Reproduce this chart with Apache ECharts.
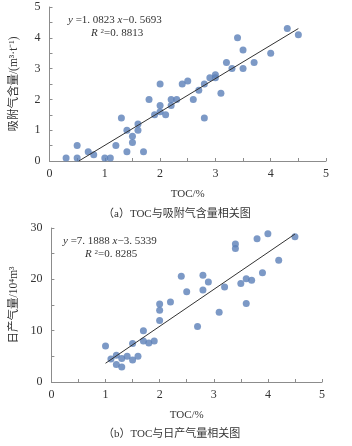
<!DOCTYPE html>
<html>
<head>
<meta charset="utf-8">
<script src="https://cdn.jsdelivr.net/npm/echarts@6/dist/echarts.min.js"></script>
<style>
  html, body { margin: 0; padding: 0; background: #fff; }
  #chart { width: 352px; height: 446px; }
</style>
</head>
<body>
<div id="chart"></div>
<script>
  // (a) TOC vs adsorbed gas content
  var tocA = [0.3, 0.5, 0.5, 0.7, 0.8, 1.0, 1.1, 1.2, 1.3, 1.4, 1.4, 1.5, 1.5, 1.6, 1.6, 1.7, 1.8, 1.9, 2.0, 2.0, 2.0, 2.1,
    2.2, 2.2, 2.3, 2.4, 2.5, 2.6, 2.7, 2.8, 2.8, 2.9, 3.0, 3.0, 3.1, 3.2, 3.3, 3.4, 3.5, 3.5, 3.7, 4.0, 4.3, 4.5];
  var gasA = [0.1, 0.5, 0.1, 0.3, 0.2, 0.1, 0.1, 0.5, 1.4, 1.0, 0.3, 0.8, 0.6, 1.2, 1.0, 0.3, 2.0, 1.5, 2.5, 1.8, 1.6, 1.5,
    2.0, 1.8, 2.0, 2.5, 2.6, 2.0, 2.3, 2.5, 1.4, 2.7, 2.8, 2.7, 2.2, 3.2, 3.0, 4.0, 3.6, 3.0, 3.2, 3.5, 4.3, 4.1];
  var trendA = [[0.53, 0], [4.5, 4.30]];

  // (b) TOC vs daily gas production
  var tocB = [1.0, 1.1, 1.2, 1.2, 1.3, 1.3, 1.4, 1.5, 1.5, 1.6, 1.7, 1.7, 1.8, 1.9, 2.0, 2.0, 2.0, 2.2, 2.4, 2.5, 2.7,
    2.8, 2.8, 2.9, 3.1, 3.2, 3.4, 3.4, 3.5, 3.6, 3.6, 3.7, 3.8, 3.9, 4.0, 4.2, 4.5];
  var gasB = [7.0, 4.5, 5.2, 3.4, 4.6, 2.9, 5.0, 7.5, 4.3, 5.0, 10.0, 8.0, 7.6, 8.0, 15.2, 14.0, 12.0, 15.6, 20.6, 17.6, 10.8,
    20.8, 17.9, 19.5, 13.6, 18.5, 26.9, 26.0, 19.2, 20.1, 15.3, 19.8, 27.9, 21.3, 28.9, 23.7, 28.3];
  var trendB = [[1.0, 3.65], [4.5, 28.82]];

  var captions = ['（a）TOC与吸附气含量相关图', '（b）TOC与日产气量相关图'];

  function pairs(xs, ys) {
    var out = [];
    for (var i = 0; i < xs.length; i++) out.push([xs[i], ys[i]]);
    return out;
  }

  var font = '"Liberation Serif", "Noto Sans CJK SC", serif';
  var dotColor = '#5b80b8';
  var axisGray = '#8c8c8c';

  function xAxisOf(idx) {
    return {
      gridIndex: idx, type: 'value', min: 0, max: 5, interval: 0.5,
      name: 'TOC/%', nameLocation: 'middle', nameGap: 28,
      nameTextStyle: { fontFamily: font, fontSize: 11, color: '#333' },
      axisLine: { lineStyle: { color: axisGray } },
      axisTick: { inside: true, length: 3, lineStyle: { color: axisGray } },
      axisLabel: {
        fontFamily: font, fontSize: 12, color: '#333', margin: 7,
        formatter: function (v) { return v % 1 === 0 ? v : ''; }
      },
      splitLine: { show: false }
    };
  }

  function yAxisOf(idx, max, interval, labelStep, name) {
    return {
      gridIndex: idx, type: 'value', min: 0, max: max, interval: interval,
      name: name, nameLocation: 'middle', nameGap: 30, nameRotate: 90,
      nameTextStyle: { fontFamily: font, fontSize: 11.5, color: '#333' },
      axisLine: { show: true, lineStyle: { color: axisGray } },
      axisTick: { show: true, inside: true, length: 3, lineStyle: { color: axisGray } },
      axisLabel: {
        fontFamily: font, fontSize: 12, color: '#333', margin: 9,
        formatter: function (v) { return v % labelStep === 0 ? v : ''; }
      },
      splitLine: { show: false }
    };
  }

  var eqRich = {
    i: { fontFamily: font, fontSize: 11, fontStyle: 'italic', fill: '#333' },
    s: { fontFamily: font, fontSize: 7, fill: '#333', verticalAlign: 'top', padding: [0, 0, 4, 0] }
  };
  function eqText(left, top, str) {
    return {
      type: 'text', left: left, top: top,
      style: { text: str, rich: eqRich, fontFamily: font, fontSize: 11, fill: '#333' }
    };
  }

  var chart = echarts.init(document.getElementById('chart'));
  chart.setOption({
    backgroundColor: '#fff',
    animation: false,
    grid: [
      { left: 43, top: 7, width: 283, height: 154 },
      { left: 42, top: 228, width: 280, height: 154 }
    ],
    xAxis: [xAxisOf(0), xAxisOf(1)],
    yAxis: [
      yAxisOf(0, 5, 0.5, 1, '吸附气含量/(m³·t⁻¹)'),
      yAxisOf(1, 30, 5, 10, '日产气量/10⁴m³')
    ],
    series: [
      {
        type: 'scatter', xAxisIndex: 0, yAxisIndex: 0, data: pairs(tocA, gasA),
        symbolSize: 7, itemStyle: { color: dotColor }, z: 3
      },
      {
        type: 'line', xAxisIndex: 0, yAxisIndex: 0, data: trendA, symbol: 'none',
        lineStyle: { color: '#333', width: 1 }, z: 4
      },
      {
        type: 'scatter', xAxisIndex: 1, yAxisIndex: 1, data: pairs(tocB, gasB),
        symbolSize: 7, itemStyle: { color: dotColor }, z: 3
      },
      {
        type: 'line', xAxisIndex: 1, yAxisIndex: 1, data: trendB, symbol: 'none',
        lineStyle: { color: '#333', width: 1 }, z: 4
      }
    ],
    graphic: [
      eqText(68, 15, '{i|y} =1. 0823 {i|x}−0. 5693'),
      eqText(91, 28, '{i|R} {s|2}=0. 8813'),
      eqText(63, 236, '{i|y} =7. 1888 {i|x}−3. 5339'),
      eqText(85, 249, '{i|R} {s|2}=0. 8285'),
      {
        type: 'text', left: 103, top: 209,
        style: { text: captions[0], fontFamily: font, fontSize: 11, fill: '#333' }
      },
      {
        type: 'text', left: 103, top: 429,
        style: { text: captions[1], fontFamily: font, fontSize: 11, fill: '#333' }
      }
    ]
  });
</script>
</body>
</html>
